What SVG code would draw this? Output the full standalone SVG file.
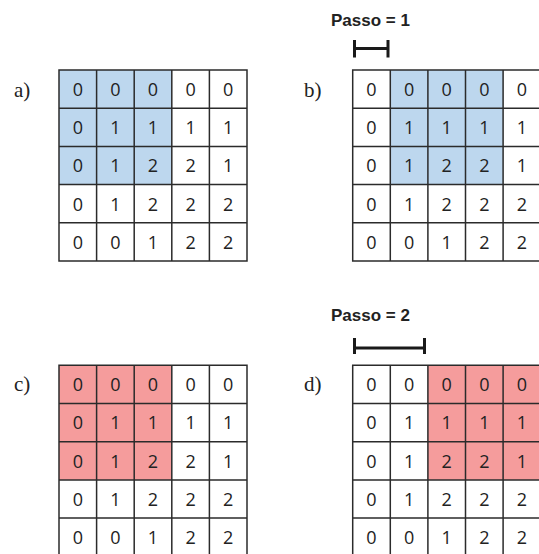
<svg xmlns="http://www.w3.org/2000/svg" width="539" height="554" viewBox="0 0 539 554">
<style>
.bg{fill:#ffffff}
.blue{fill:#bdd7ee}
.red{fill:#f59c9c}
.grid{fill:none;stroke:#2b2b2b;stroke-width:1.5}
.d{font-family:"Open Sans","Liberation Sans",sans-serif;font-size:18px;fill:#222;text-anchor:middle}
.lbl{font-family:"Liberation Serif",serif;font-size:21px;fill:#222}
.passo{font-family:"Liberation Sans",sans-serif;font-size:17px;font-weight:bold;fill:#222}
.br{fill:none;stroke:#1a1a1a;stroke-width:3}
</style>
<defs>
<path id="lines" d="M0,0H188V191H0Z M37.6,0V191 M75.2,0V191 M112.8,0V191 M150.4,0V191 M0,38.2H188 M0,76.4H188 M0,114.6H188 M0,152.8H188"/>
<g id="nums">
<text class="d" x="18.8" y="26">0</text><text class="d" x="56.4" y="26">0</text><text class="d" x="94" y="26">0</text><text class="d" x="131.6" y="26">0</text><text class="d" x="169.2" y="26">0</text>
<text class="d" x="18.8" y="64.2">0</text><text class="d" x="56.4" y="64.2">1</text><text class="d" x="94" y="64.2">1</text><text class="d" x="131.6" y="64.2">1</text><text class="d" x="169.2" y="64.2">1</text>
<text class="d" x="18.8" y="102.4">0</text><text class="d" x="56.4" y="102.4">1</text><text class="d" x="94" y="102.4">2</text><text class="d" x="131.6" y="102.4">2</text><text class="d" x="169.2" y="102.4">1</text>
<text class="d" x="18.8" y="140.6">0</text><text class="d" x="56.4" y="140.6">1</text><text class="d" x="94" y="140.6">2</text><text class="d" x="131.6" y="140.6">2</text><text class="d" x="169.2" y="140.6">2</text>
<text class="d" x="18.8" y="178.8">0</text><text class="d" x="56.4" y="178.8">0</text><text class="d" x="94" y="178.8">1</text><text class="d" x="131.6" y="178.8">2</text><text class="d" x="169.2" y="178.8">2</text>
</g>
</defs>
<rect x="0" y="0" width="539" height="554" fill="#ffffff"/>

<g id="panel-a">
<text class="lbl" x="14" y="97">a)</text>
<g transform="translate(59,70)">
<rect class="bg" x="0" y="0" width="188" height="191"/>
<rect class="blue" x="0" y="0" width="112.8" height="114.6"/>
<use href="#nums"/>
<use href="#lines" class="grid"/>
</g>
</g>

<g id="panel-b">
<text class="lbl" x="304" y="97">b)</text>
<text class="passo" x="331" y="25.5">Passo = 1</text>
<path class="br" d="M354.5,40V57.5 M354.5,48.5H388 M388,40V57.5"/>
<g transform="translate(352.7,70)">
<rect class="bg" x="0" y="0" width="188" height="191"/>
<rect class="blue" x="37.6" y="0" width="112.8" height="114.6"/>
<use href="#nums"/>
<use href="#lines" class="grid"/>
</g>
</g>

<g id="panel-c">
<text class="lbl" x="14" y="391">c)</text>
<g transform="translate(59,365.3)">
<rect class="bg" x="0" y="0" width="188" height="191"/>
<rect class="red" x="0" y="0" width="112.8" height="114.6"/>
<use href="#nums"/>
<use href="#lines" class="grid"/>
</g>
</g>

<g id="panel-d">
<text class="lbl" x="304" y="391">d)</text>
<text class="passo" x="331" y="320.5">Passo = 2</text>
<path class="br" d="M354.5,338V354 M354.5,348H424.5 M424.5,338V354"/>
<g transform="translate(352.7,365.3)">
<rect class="bg" x="0" y="0" width="188" height="191"/>
<rect class="red" x="75.2" y="0" width="112.8" height="114.6"/>
<use href="#nums"/>
<use href="#lines" class="grid"/>
</g>
</g>
</svg>
